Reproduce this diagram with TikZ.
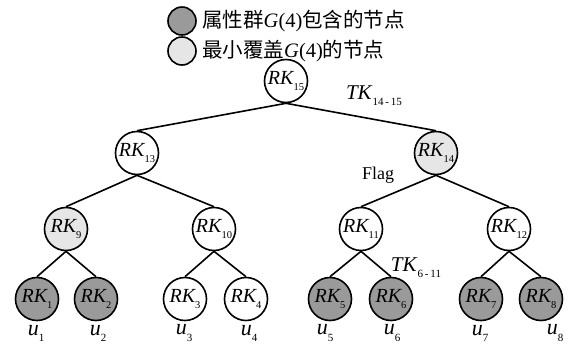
\documentclass[tikz,border=0pt]{standalone}
\usepackage{fontspec}
\setmainfont{Liberation Serif}
\newfontfamily\cjk{Noto Sans CJK SC}
\definecolor{dk}{HTML}{9A9A9A}
\definecolor{lt}{HTML}{E6E6E6}
\newcommand{\rklab}[1]{{\itshape RK}\raisebox{-0.6ex}{\fontsize{10.5}{10.5}\selectfont #1}}
\newcommand{\ulab}[1]{{\itshape u}\raisebox{-0.6ex}{\fontsize{11}{11}\selectfont #1}}
\begin{document}
\begin{tikzpicture}[x=1pt,y=-1pt,
  rk/.style={circle,draw=black,line width=1.6pt,minimum size=43pt,inner sep=0pt,fill=white,font=\fontsize{20}{20}\selectfont},
  dkn/.style={rk,fill=dk},
  ltn/.style={rk,fill=lt},
  edge/.style={line width=1.6pt},
  ul/.style={font=\fontsize{22}{22}\selectfont,inner sep=0pt},
  lab/.style={font=\fontsize{21}{21}\selectfont,inner sep=0pt},
  legc/.style={circle,draw=black,line width=1.6pt,minimum size=28pt,inner sep=0pt}]
\useasboundingbox (0,0) rectangle (571,349);
% legend
\node[legc,fill=dk] (l1) at (182,21) {};
\node[legc,fill=lt] (l2) at (182,51) {};
\node[anchor=west,inner sep=0pt,font=\fontsize{20.5}{20.5}\selectfont] (t1) at (202,21) {{\cjk 属性群}\textit{G}(4){\cjk 包含的节点}};
\node[anchor=west,inner sep=0pt,font=\fontsize{20.5}{20.5}\selectfont] (t2) at (202,51) {{\cjk 最小覆盖}\textit{G}(4){\cjk 的节点}};
% tree nodes
\node[rk] (n15) at (286,81) {\rklab{15}};
\node[rk] (n13) at (137,153) {\rklab{13}};
\node[ltn] (n14) at (436,153) {\rklab{14}};
\node[ltn] (n9) at (66,229) {\rklab{9}};
\node[rk] (n10) at (214,229) {\rklab{10}};
\node[rk] (n11) at (361,229) {\rklab{11}};
\node[rk] (n12) at (509,229) {\rklab{12}};
\node[dkn] (n1) at (37,299) {\rklab{1}};
\node[dkn] (n2) at (96,299) {\rklab{2}};
\node[rk] (n3) at (185,299) {\rklab{3}};
\node[rk] (n4) at (246,299) {\rklab{4}};
\node[dkn] (n5) at (330,299) {\rklab{5}};
\node[dkn] (n6) at (391,299) {\rklab{6}};
\node[dkn] (n7) at (481,299) {\rklab{7}};
\node[dkn] (n8) at (541,299) {\rklab{8}};
% edges
\foreach \p/\c in {n15/n13,n15/n14,n13/n9,n13/n10,n14/n11,n14/n12,n9/n1,n9/n2,n10/n3,n10/n4,n11/n5,n11/n6,n12/n7,n12/n8}
  \draw[edge] (\p.south) -- (\c.north);
% leaf labels
\node[ul] (u1) at (36,333) {\ulab{1}};
\node[ul] (u2) at (98,333) {\ulab{2}};
\node[ul] (u3) at (184,333) {\ulab{3}};
\node[ul] (u4) at (249,333) {\ulab{4}};
\node[ul] (u5) at (325,333) {\ulab{5}};
\node[ul] (u6) at (392,333) {\ulab{6}};
\node[ul] (u7) at (480,333) {\ulab{7}};
\node[ul] (u8) at (555,333) {\ulab{8}};
% other labels
\node[lab] (tk1) at (374,96) {\textit{TK}\raisebox{-0.6ex}{\fontsize{11}{11}\selectfont 14\,-\,15}};
\node[inner sep=0pt,font=\fontsize{18}{18}\selectfont] (flag) at (378,175) {Flag};
\node[lab] (tk2) at (416,268) {\textit{TK}\raisebox{-0.6ex}{\fontsize{11}{11}\selectfont 6\,-\,11}};
\end{tikzpicture}
\end{document}
